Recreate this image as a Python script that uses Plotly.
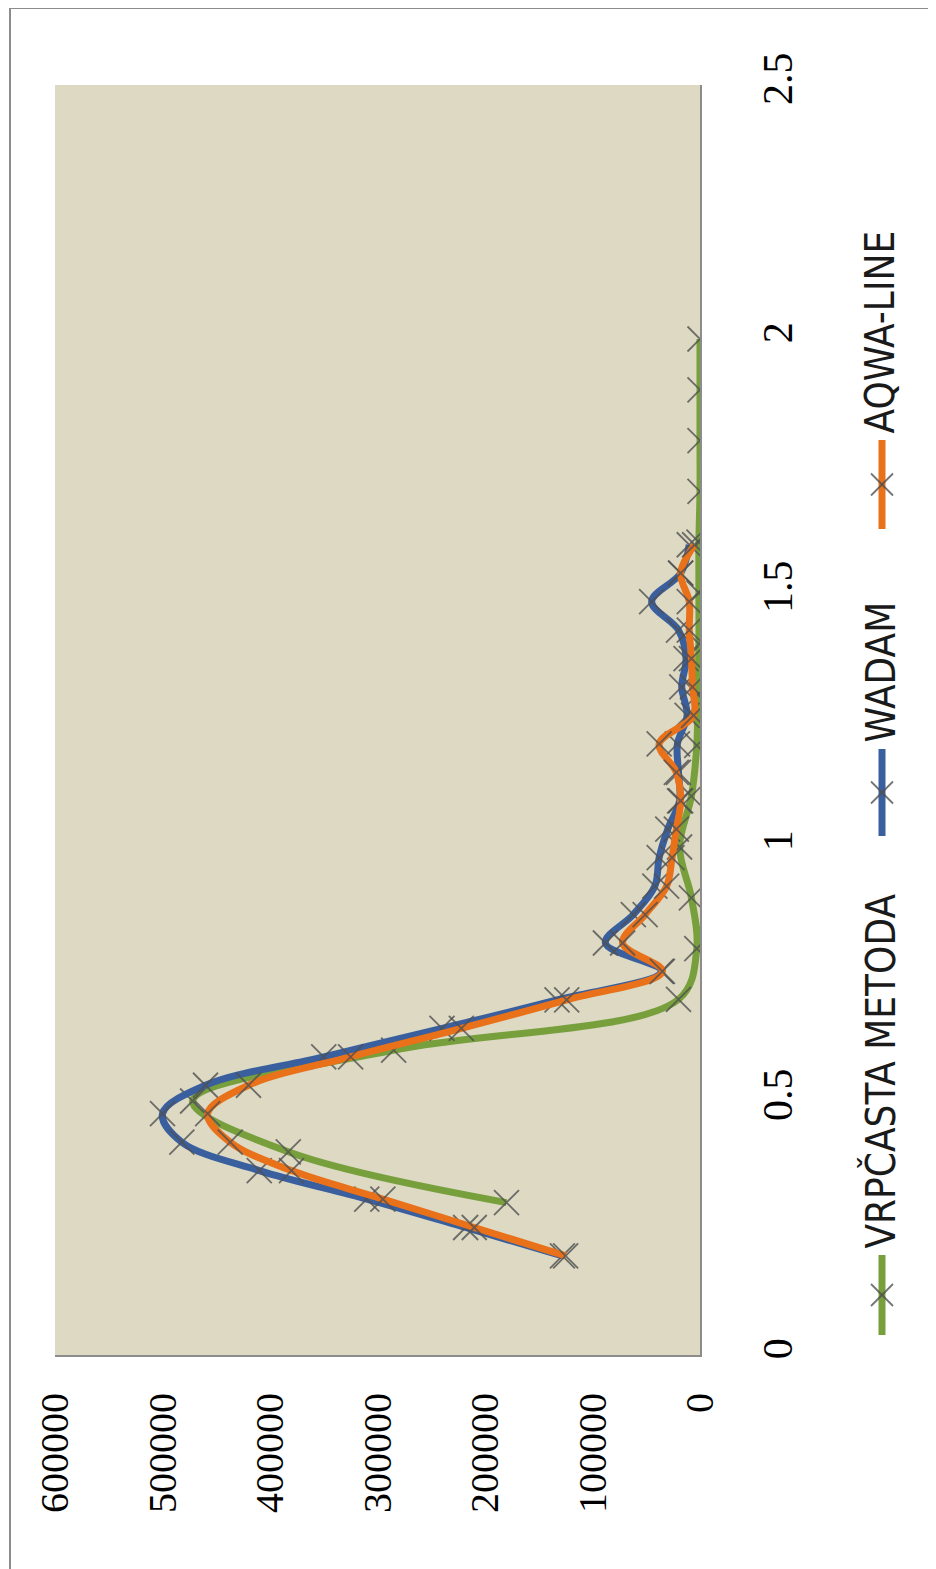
import plotly.graph_objects as go

# ---- data ----
freq_ab = [0.195, 0.251, 0.307, 0.363, 0.419, 0.475, 0.531, 0.587, 0.643, 0.699,
           0.755, 0.811, 0.867, 0.923, 0.979, 1.035, 1.091, 1.147, 1.203, 1.259,
           1.315, 1.371, 1.427, 1.483, 1.539, 1.595]
wadam = [128000, 218000, 310000, 410000, 482000, 500000, 460000, 350000, 240000, 133000,
         36000, 88000, 62000, 42000, 38000, 30000, 19000, 20000, 21000, 12000,
         17000, 13000, 20000, 45000, 18000, 10000]
aqwa = [125000, 210000, 295000, 380000, 437000, 458000, 420000, 325000, 222000, 124000,
        35000, 72000, 51000, 31000, 26000, 22000, 18000, 22000, 38000, 6000,
        7000, 8000, 10000, 10000, 18000, 5000]
freq_g = [0.3, 0.4, 0.5, 0.6, 0.7, 0.8, 0.9, 1.0, 1.1, 1.2, 1.3, 1.4, 1.5, 1.6,
          1.7, 1.8, 1.9, 2.0]
vrpcasta = [180000, 383000, 472000, 285000, 20000, 3000, 8000, 19000, 8000, 3000,
            2000, 1000, 1000, 1000, 0, 0, 0, 0]

names = ["VRPČASTA METODA", "WADAM", "AQWA-LINE"]
colors = ["#77A03D", "#3A5F9E", "#E8711A"]
val_ticks = [0, 100000, 200000, 300000, 400000, 500000, 600000]
val_ticktext = ["0", "100000", "200000", "300000", "400000", "500000", "600000"]
freq_ticks = [0, 0.5, 1, 1.5, 2, 2.5]
freq_ticktext = ["0", "0.5", "1", "1.5", "2", "2.5"]

# ---- layout geometry (page pixels) ----
W, H = 936, 1569
OFF = 8  # default body margin of the html page
L, R, T, B = 55, 700, 85, 1355
pw, ph = R - L, B - T


def px(x):
    return (x - L) / pw


def py(y):
    return (B - y) / ph


marker = dict(symbol="x-thin", size=25, line=dict(width=1.8, color="rgba(80,80,80,0.8)"))

fig = go.Figure()
series = [(freq_g, vrpcasta), (freq_ab, wadam), (freq_ab, aqwa)]
for (fx, fv), name, col in zip(series, names, colors):
    fig.add_trace(go.Scatter(
        x=fv, y=fx, name=name, mode="lines+markers",
        line=dict(color=col, width=7, shape="spline", smoothing=1.0),
        marker=marker, showlegend=False,
    ))

shapes = []
annotations = []
# outer chart border
shapes.append(dict(type="rect", xref="paper", yref="paper",
                   x0=px(10), x1=px(950), y0=py(1590), y1=py(8),
                   line=dict(color="#8C8C8C", width=2), fillcolor="rgba(0,0,0,0)", layer="below"))

# rotated legend
leg_x = 882
legend_items = [  # (line bottom, line top) in page pixel y
    (1335, 1255),
    (836, 749),
    (529, 440),
]
for (yb, yt), name, col in zip(legend_items, names, colors):
    shapes.append(dict(type="line", xref="paper", yref="paper",
                       x0=px(leg_x), x1=px(leg_x), y0=py(yb), y1=py(yt),
                       line=dict(color=col, width=7)))
    yc = (yb + yt) / 2
    d = 11
    for s in (1, -1):
        shapes.append(dict(type="line", xref="paper", yref="paper",
                           x0=px(leg_x - d), x1=px(leg_x + d),
                           y0=py(yc - s * d), y1=py(yc + s * d),
                           line=dict(color="rgba(80,80,80,0.8)", width=1.8)))
    annotations.append(dict(
        xref="paper", yref="paper", x=px(leg_x - 2), y=py(yt - 4),
        text=name, showarrow=False, textangle=-90,
        xanchor="center", yanchor="bottom",
        font=dict(family="Liberation Sans Narrow, DejaVu Sans Condensed, Liberation Sans",
                  size=40, color="#1a1a1a"),
    ))

fig.update_layout(
    width=W, height=H,
    margin=dict(l=L - OFF, r=W + OFF - R, t=T - OFF, b=H + OFF - B, pad=0),
    paper_bgcolor="white",
    plot_bgcolor="#DDD9C3",
    showlegend=False,
    shapes=shapes,
    annotations=annotations,
    xaxis=dict(
        range=[600000, 0], tickvals=val_ticks, ticktext=val_ticktext, tickangle=-90,
        showgrid=False, zeroline=False, showline=True, linecolor="#8C8C8C", linewidth=2,
        ticks="", ticklabelstandoff=20,
        tickfont=dict(family="Liberation Serif", size=40, color="black"),
    ),
    yaxis=dict(
        range=[0, 2.5], side="right", tickvals=freq_ticks, ticktext=freq_ticktext,
        tickangle=-90, showgrid=False, zeroline=False, showline=True,
        linecolor="#8C8C8C", linewidth=2, ticks="", ticklabelstandoff=40,
        tickfont=dict(family="Liberation Serif", size=42, color="black"),
    ),
)

fig.write_html("out.html")
